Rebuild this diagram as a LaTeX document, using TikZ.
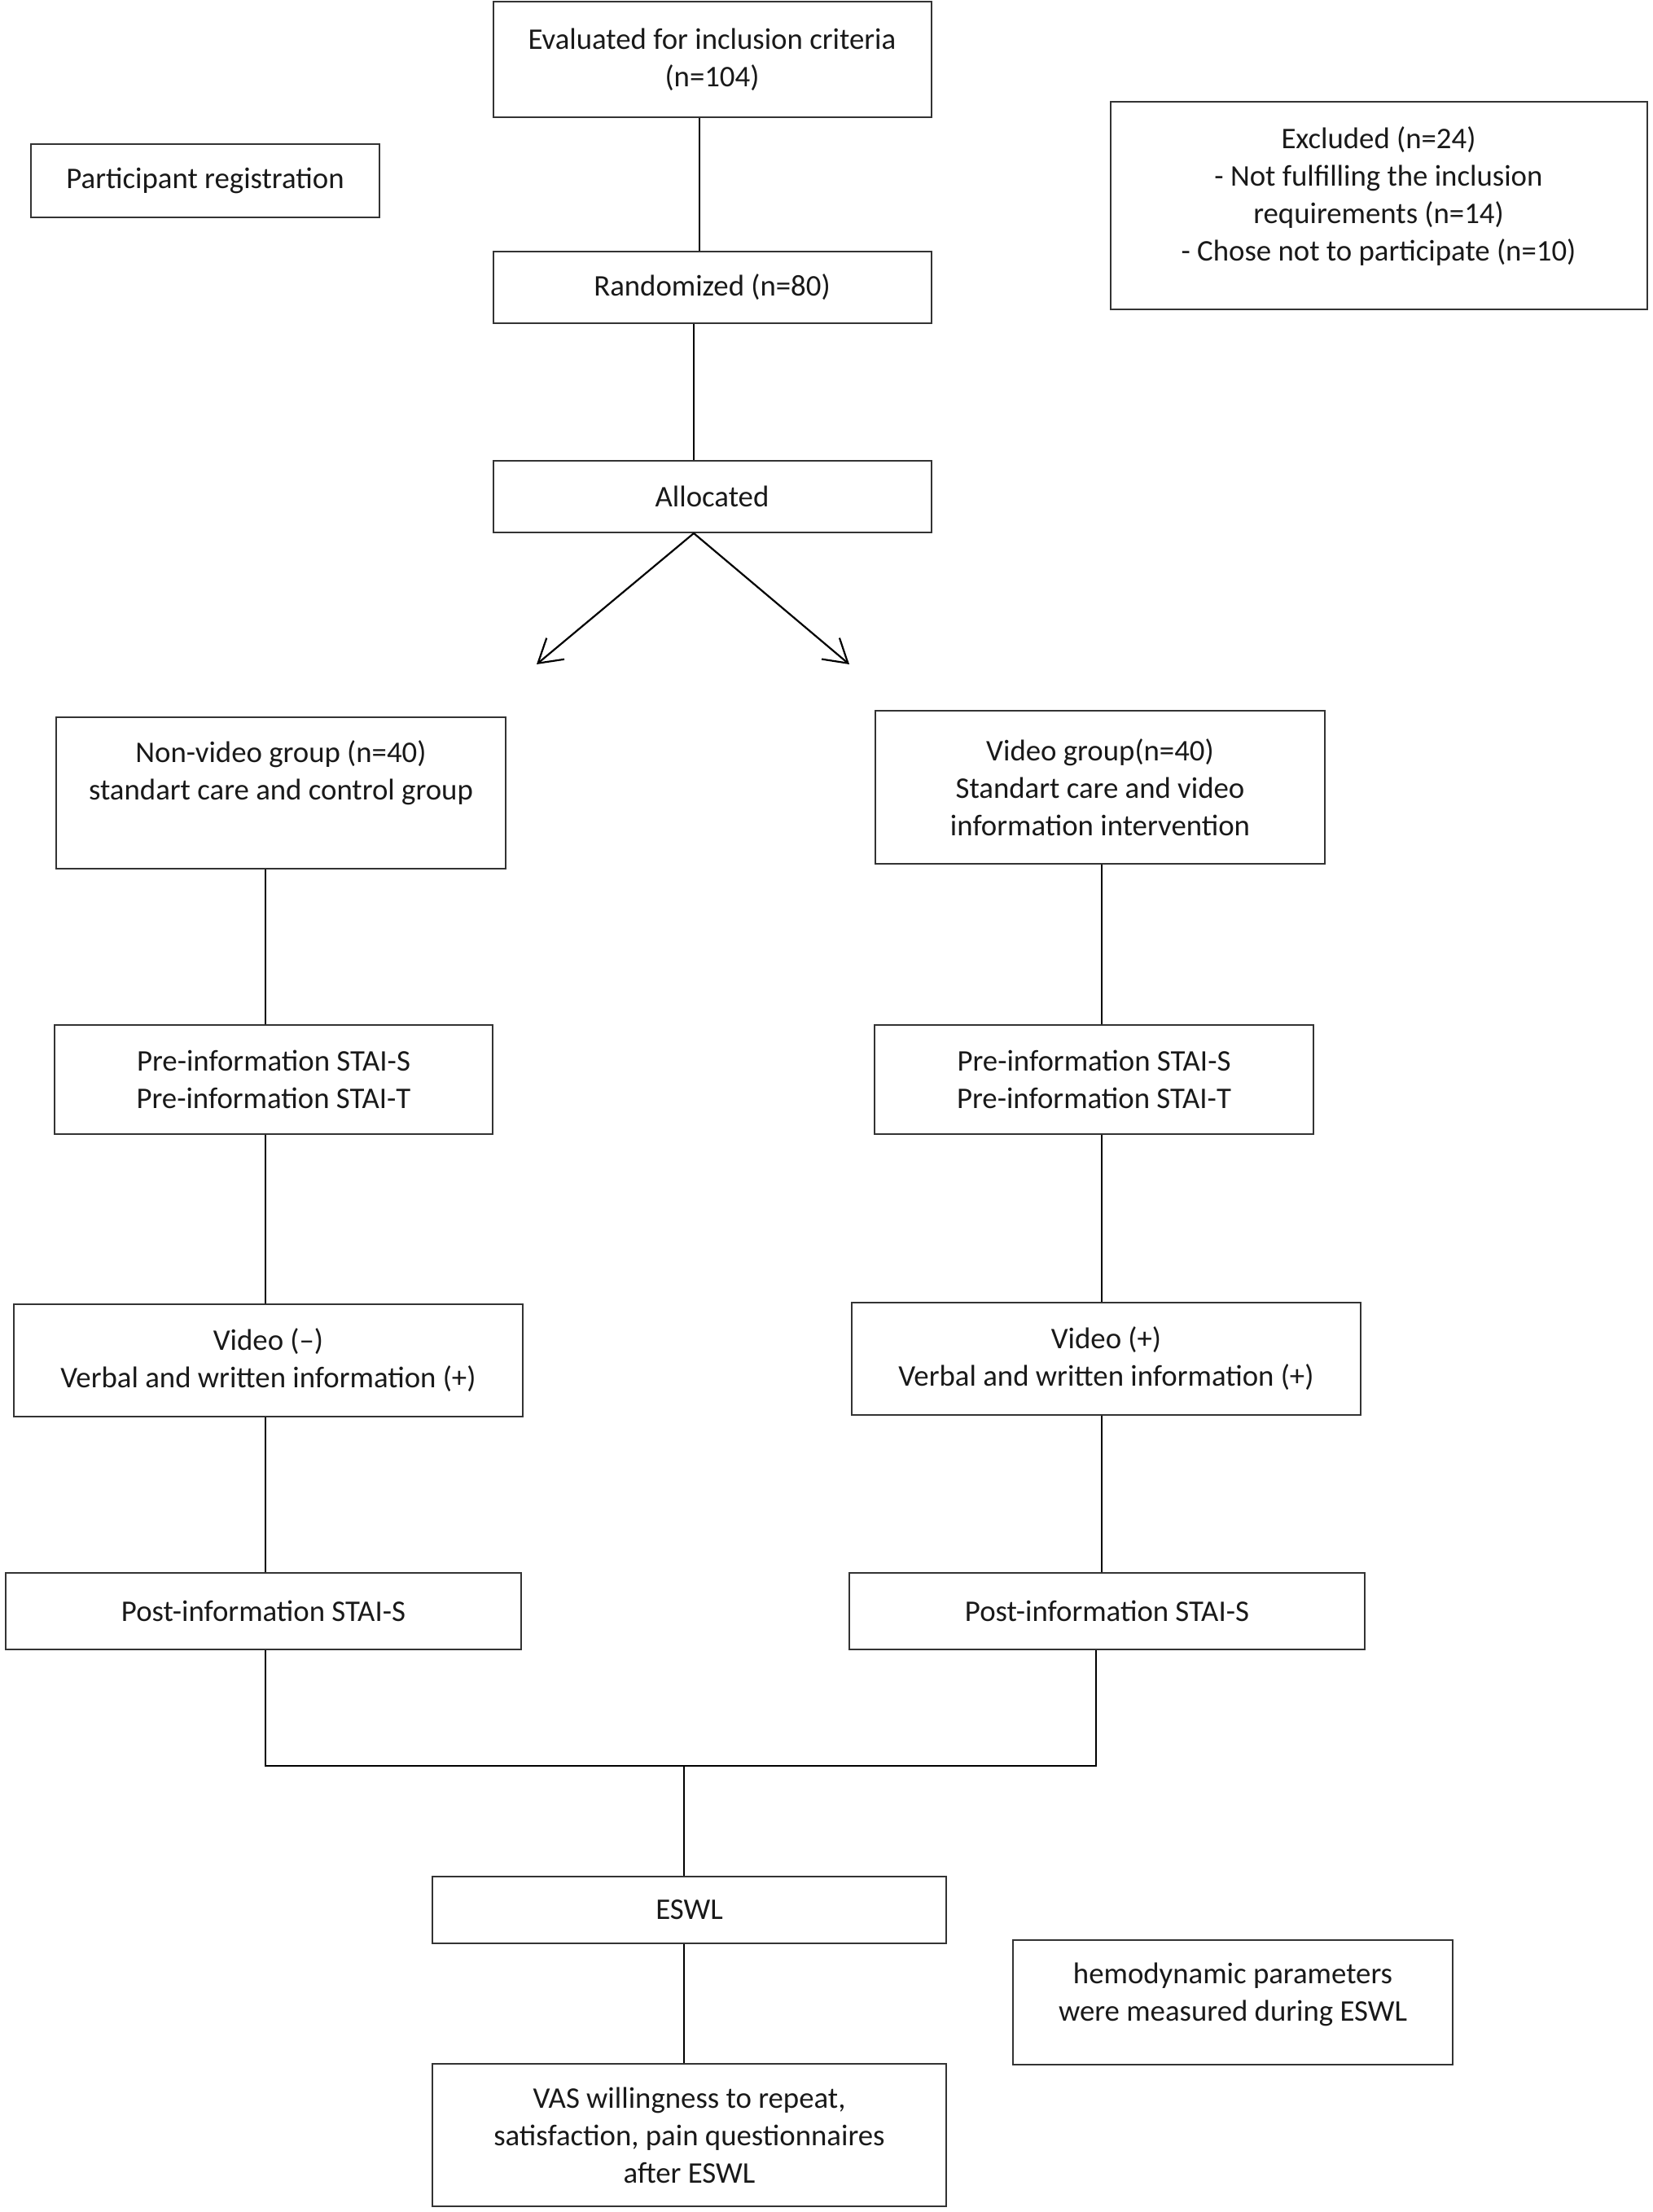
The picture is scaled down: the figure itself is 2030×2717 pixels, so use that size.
\documentclass[tikz,border=0pt]{standalone}
\usepackage{fontspec}
\setmainfont{Carlito}
\usetikzlibrary{arrows.meta}
\begin{document}
\begin{tikzpicture}[x=0.25pt,y=-0.25pt,
  box/.style={draw=black!80,line width=0.5pt,rectangle,align=center,inner sep=0pt,
    font=\fontsize{9.2}{11.5}\selectfont,text=black!90},
  conn/.style={draw=black,line width=0.55pt},
  arr/.style={conn,-{Straight Barb[length=7pt,width=8.5pt]}}]
\useasboundingbox (0,0) rectangle (2030,2717);

\node[box,minimum width=134.5pt,minimum height=35.5pt] (eval) at (874.5,73) {Evaluated for inclusion criteria\\(n=104)};
\node[box,minimum width=107pt,minimum height=22.5pt] (part) at (252,222) {Participant registration};
\node[box,minimum width=164.75pt,minimum height=63.75pt] (excl) at (1693,252.5) {Excluded (n=24)\\- Not fulfilling the inclusion\\requirements (n=14)\\- Chose not to participate (n=10)\\[-4.5pt]\mbox{}};
\node[box,minimum width=134.5pt,minimum height=22pt] (rand) at (874.5,353) {Randomized (n=80)};
\node[box,minimum width=134.5pt,minimum height=22pt] (alloc) at (874.5,610) {Allocated};

\node[box,minimum width=138pt,minimum height=46.5pt] (nonvid) at (345,974) {Non-video group (n=40)\\standart care and control group\\[2.5pt]\mbox{}};
\node[box,minimum width=138pt,minimum height=47pt] (vid) at (1351,967) {Video group(n=40)\\Standart care and video\\information intervention};

\node[box,minimum width=134.5pt,minimum height=33.5pt] (preL) at (336,1326) {Pre-information STAI-S\\Pre-information STAI-T};
\node[box,minimum width=134.75pt,minimum height=33.5pt] (preR) at (1343.5,1326) {Pre-information STAI-S\\Pre-information STAI-T};

\node[box,minimum width=156.25pt,minimum height=34.5pt] (vmL) at (329.5,1671) {Video (--)\\Verbal and written information (+)};
\node[box,minimum width=156.25pt,minimum height=34.5pt] (vmR) at (1358.5,1669) {Video (+)\\Verbal and written information (+)};

\node[box,minimum width=158.25pt,minimum height=23.5pt] (postL) at (323.5,1979) {Post-information STAI-S};
\node[box,minimum width=158.25pt,minimum height=23.5pt] (postR) at (1359.5,1979) {Post-information STAI-S};

\node[box,minimum width=157.75pt,minimum height=20.5pt] (eswl) at (846.5,2346) {ESWL};
\node[box,minimum width=135pt,minimum height=38.25pt] (hemo) at (1514,2459.5) {hemodynamic parameters\\were measured during ESWL\\[-5pt]\mbox{}};
\node[box,minimum width=157.75pt,minimum height=43.75pt] (vas) at (846.5,2622.5) {VAS willingness to repeat,\\satisfaction, pain questionnaires\\after ESWL};

\coordinate (xa) at (859,0);
\coordinate (xb) at (852,0);
\coordinate (xl) at (326,0);
\coordinate (xr) at (1353,0);
\coordinate (xr2) at (1346,0);
\coordinate (xc) at (840,0);
\coordinate (hy) at (0,2169);
\coordinate (tl) at (659,816);
\coordinate (tr) at (1043,816);

\draw[conn] (eval.south -| xa) -- (rand.north -| xa);
\draw[conn] (rand.south -| xb) -- (alloc.north -| xb);
\draw[arr] (alloc.south -| xb) -- (tl);
\draw[arr] (alloc.south -| xb) -- (tr);

\draw[conn] (nonvid.south -| xl) -- (preL.north -| xl);
\draw[conn] (preL.south -| xl) -- (vmL.north -| xl);
\draw[conn] (vmL.south -| xl) -- (postL.north -| xl);
\draw[conn] (vid.south -| xr) -- (preR.north -| xr);
\draw[conn] (preR.south -| xr) -- (vmR.north -| xr);
\draw[conn] (vmR.south -| xr) -- (postR.north -| xr);

\draw[conn] (postL.south -| xl) -- (xl |- hy) -- (xr2 |- hy) -- (postR.south -| xr2);
\draw[conn] (xc |- hy) -- (eswl.north -| xc);
\draw[conn] (eswl.south -| xc) -- (vas.north -| xc);
\end{tikzpicture}
\end{document}
